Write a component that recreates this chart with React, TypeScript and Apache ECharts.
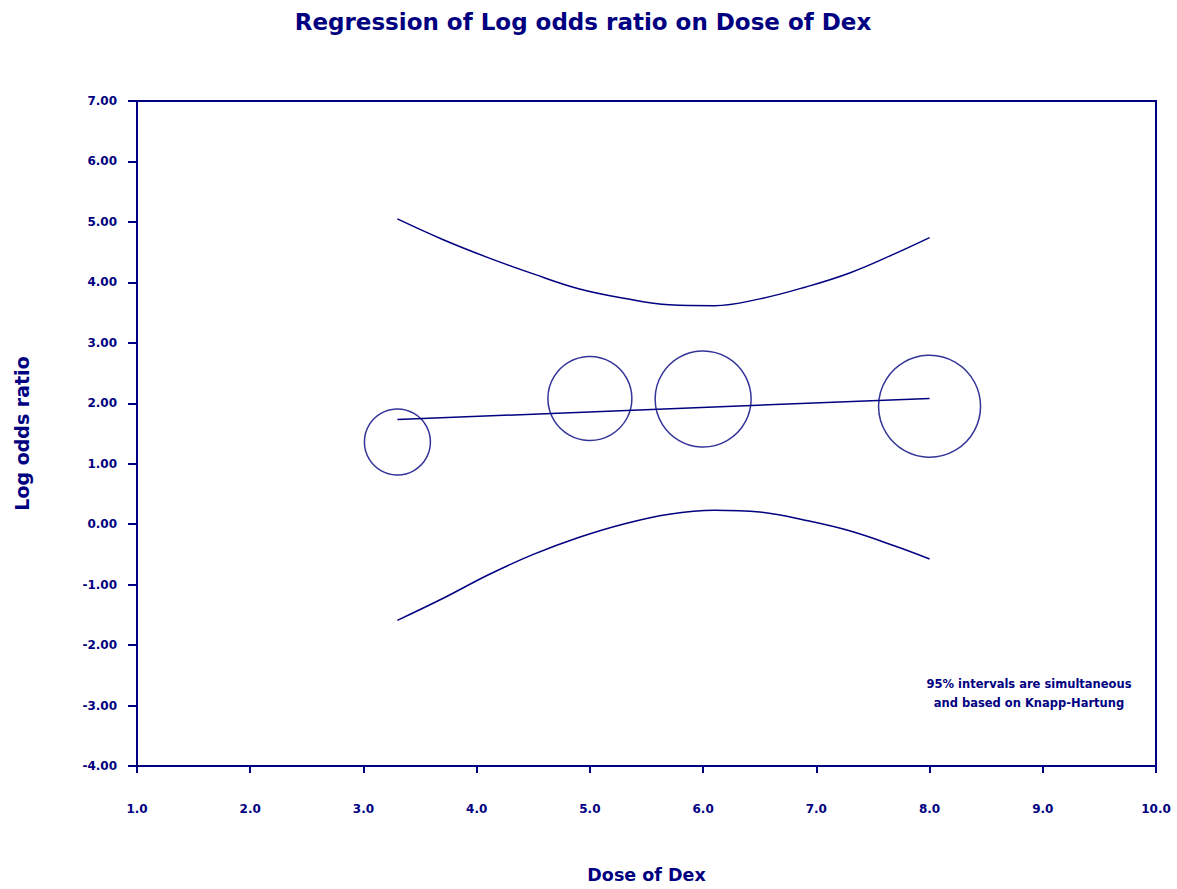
import React, { useEffect, useRef } from "react";
import * as echarts from "echarts";

const chartTitle = "Regression of Log odds ratio on Dose of Dex";
const xAxisTitle = "Dose of Dex";
const yAxisTitle = "Log odds ratio";
const noteLines = ["95% intervals are simultaneous", "and based on Knapp-Hartung"];

const studyDose = [3.3, 5.0, 6.0, 8.0];
const studyLogOR = [1.36, 2.08, 2.07, 1.95];
const studyWeight = [6.6, 8.4, 9.6, 10.2];

const regDose = [3.3, 8.0];
const regLogOR = [1.73, 2.08];

const ciDose = [3.3, 3.7, 4.1, 4.5, 4.9, 5.3, 5.7, 6.1, 6.5, 6.9, 7.3, 7.7, 8.0];
const ciUpper = [5.05, 4.71, 4.41, 4.14, 3.895, 3.738, 3.63, 3.615, 3.727, 3.92, 4.16, 4.48, 4.74];
const ciLower = [-1.59, -1.23, -0.84, -0.5, -0.22, 0.004, 0.165, 0.23, 0.2, 0.066, -0.113, -0.365, -0.575];

const NAVY = "#000080";
const FONT = "DejaVu Sans";

export default function App() {
  const ref = useRef<HTMLDivElement>(null);
  useEffect(() => {
    if (!ref.current) return;
    const chart = echarts.init(ref.current, null, { renderer: "svg" });
    const zip = (xs: number[], ys: number[]) => xs.map((x, i) => [x, ys[i]]);
    chart.setOption({
      animation: false,
      backgroundColor: "#ffffff",
      grid: {
        left: 137,
        top: 101,
        right: 21,
        bottom: 118,
        show: true,
        borderColor: NAVY,
        borderWidth: 2,
      },
      xAxis: {
        type: "value",
        min: 1,
        max: 10,
        interval: 1,
        name: xAxisTitle,
        nameLocation: "middle",
        nameGap: 100,
        nameTextStyle: { color: NAVY, fontFamily: FONT, fontWeight: "bold", fontSize: 17.5 },
        axisLine: { show: true, onZero: false, lineStyle: { color: NAVY, width: 2 } },
        axisTick: { show: true, inside: false, length: 7, lineStyle: { color: NAVY, width: 2 } },
        axisLabel: {
          color: NAVY,
          fontFamily: FONT,
          fontWeight: "bold",
          fontSize: 12,
          margin: 37,
          formatter: (v: number) => v.toFixed(1),
        },
        splitLine: { show: false },
      },
      yAxis: {
        type: "value",
        min: -4,
        max: 7,
        interval: 1,
        name: yAxisTitle,
        nameLocation: "middle",
        nameGap: 106,
        nameRotate: 90,
        nameTextStyle: { color: NAVY, fontFamily: FONT, fontWeight: "bold", fontSize: 19 },
        axisLine: { show: true, onZero: false, lineStyle: { color: NAVY, width: 2 } },
        axisTick: { show: true, inside: false, length: 9, lineStyle: { color: NAVY, width: 2 } },
        axisLabel: {
          color: NAVY,
          fontFamily: FONT,
          fontWeight: "bold",
          fontSize: 12,
          margin: 20,
          formatter: (v: number) => v.toFixed(2),
        },
        splitLine: { show: false },
      },
      graphic: [
        {
          type: "text",
          x: 583,
          y: 22,
          style: {
            text: chartTitle,
            fill: NAVY,
            font: `bold 23px "${FONT}"`,
            textAlign: "center",
            textVerticalAlign: "middle",
          },
        },
        ...noteLines.map((t, i) => ({
          type: "text",
          x: 1029,
          y: 684 + i * 19,
          style: {
            text: t,
            fill: NAVY,
            font: `bold 11.5px "${FONT}"`,
            textAlign: "center",
            textVerticalAlign: "middle",
          },
        })),
      ],
      series: [
        {
          type: "line",
          data: zip(ciDose, ciUpper),
          smooth: 0.4,
          showSymbol: false,
          lineStyle: { color: NAVY, width: 1.5 },
        },
        {
          type: "line",
          data: zip(ciDose, ciLower),
          smooth: 0.4,
          showSymbol: false,
          lineStyle: { color: NAVY, width: 1.5 },
        },
        {
          type: "line",
          data: zip(regDose, regLogOR),
          showSymbol: false,
          lineStyle: { color: NAVY, width: 1.5 },
        },
        {
          type: "scatter",
          data: studyDose.map((d, i) => [d, studyLogOR[i], studyWeight[i]]),
          symbol: "circle",
          symbolSize: (v: number[]) => v[2] * 10,
          itemStyle: { color: "rgba(0,0,0,0)", borderColor: NAVY, borderWidth: 1.5 },
        },
      ],
    });
    return () => chart.dispose();
  }, []);
  return (
    <div
      ref={ref}
      style={{ position: "fixed", left: 0, top: 0, width: 1177, height: 889, background: "#fff" }}
    />
  );
}
